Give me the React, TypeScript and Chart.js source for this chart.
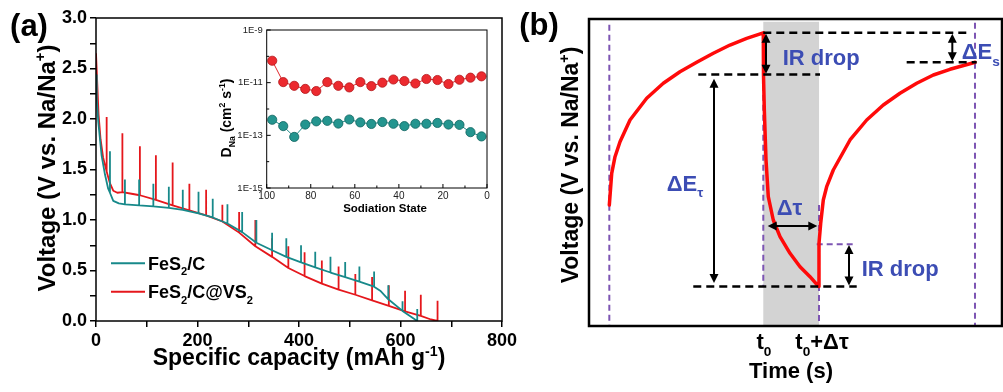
import { useEffect, useRef } from 'react';
import { Chart, registerables } from 'chart.js';

Chart.register(...registerables);

const FONT = "'Liberation Sans', Arial, Helvetica, sans-serif";
Chart.defaults.font.family = FONT;

// ---------------- Panel (a): GITT curves ----------------
const tealCap = [0, 1.5, 4.5, 11, 17.7, 24, 27.5, 34, 45, 57, 85, 113, 143.5, 171, 202, 230, 259, 288, 316, 347, 375, 404, 432, 462, 491, 519, 548, 560, 576, 604, 620, 633];
const tealV = [2.44, 2.2, 1.97, 1.64, 1.45, 1.31, 1.27, 1.19, 1.165, 1.155, 1.145, 1.135, 1.12, 1.1, 1.065, 1.025, 0.965, 0.88, 0.775, 0.7, 0.635, 0.58, 0.53, 0.48, 0.435, 0.39, 0.34, 0.3, 0.215, 0.1, 0.045, 0.0];
const tealPeak = [null, null, null, null, null, null, 1.68, null, null, 1.4, 1.4, 1.36, 1.33, 1.3, 1.28, 1.21, 1.155, 1.08, 1.0, 0.875, 0.82, 0.75, 0.685, 0.635, 0.585, 0.54, 0.49, null, 0.355, 0.195, null, 0.12];

const redCap = [0, 2.5, 5, 9, 14, 21, 27, 34, 42, 52, 70, 86.5, 118, 151, 184, 217, 249, 282, 314, 347, 379, 411, 445, 478, 511, 544, 577, 609, 640, 660, 673];
const redV = [2.65, 2.35, 2.05, 1.8, 1.62, 1.48, 1.37, 1.29, 1.27, 1.275, 1.26, 1.245, 1.2, 1.145, 1.095, 1.045, 0.985, 0.875, 0.74, 0.635, 0.525, 0.445, 0.37, 0.31, 0.26, 0.205, 0.15, 0.095, 0.05, 0.015, 0.0];
const redPeak = [null, null, null, null, null, 2.02, null, null, null, 1.86, null, 1.73, 1.64, 1.57, 1.36, 1.3, 1.15, 1.08, 1.0, 0.82, 0.74, 0.68, 0.6, 0.54, 0.465, 0.435, 0.355, 0.3, 0.26, null, 0.2];

// ---------------- Inset: diffusion coefficient ----------------
const insetState = [97.5, 92.5, 87.5, 82.5, 77.5, 72.5, 67.5, 62.5, 57.5, 52.5, 47.5, 42.5, 37.5, 32.5, 27.5, 22.5, 17.5, 12.5, 7.5, 2.5];
const insetRed = [6.8e-11, 1.05e-11, 7.6e-12, 5.8e-12, 4.8e-12, 1.05e-11, 7.6e-12, 6.6e-12, 1.05e-11, 7.4e-12, 1.0e-11, 1.32e-11, 1.15e-11, 9.3e-12, 1.38e-11, 1.26e-11, 8.9e-12, 1.29e-11, 1.55e-11, 1.74e-11];
const insetTeal = [3.9e-13, 2.24e-13, 8.7e-14, 2.57e-13, 3.4e-13, 3.55e-13, 2.8e-13, 4.0e-13, 3.1e-13, 2.7e-13, 3.2e-13, 2.75e-13, 2.24e-13, 2.75e-13, 2.75e-13, 2.95e-13, 2.57e-13, 2.5e-13, 1.32e-13, 9.1e-14];
const insetExp = [-15, -14, -13, -12, -11, -10, -9];
const insetYLabels = ['1E-15', '', '1E-13', '', '1E-11', '', '1E-9'];

// ---------------- Panel (b): schematic (arbitrary units 0-100) ----------------
const bCurveX = [4.92, 5.5, 6.3, 7.51, 9.93, 13.97, 17.99, 22.03, 26.08, 30.1, 34.14, 38.18, 42.2, 42.25, 42.45, 42.86, 43.41, 44.62, 46.25, 48.67, 51.09, 53.51, 55.57, 55.69, 56.1, 56.73, 57.55, 59.15, 63.2, 67.24, 71.26, 75.3, 79.35, 83.37, 87.41, 92.66, 93.46];
const bCurveY = [39.41, 49.74, 55.15, 60.03, 67.1, 74.17, 79.06, 82.83, 85.9, 88.83, 91.53, 93.71, 95.5, 81.76, 70.36, 54.07, 42.12, 34.53, 29.09, 23.68, 19.32, 16.06, 12.9, 26.94, 33.45, 41.04, 45.37, 50.81, 60.59, 67.1, 71.99, 75.8, 79.06, 81.76, 83.62, 85.57, 85.9];
const bShadeX = [42.2, 55.7];
const bShadeTop = 99.1;
const bVLineX = [4.92, 42.2, 55.69, 93.46];
const bVLineTop = [98.1, 81.8, 39.4, 98.8];
const bVLineBottom = [0, 12.9, 0, 0];
const bHLineX1 = [42.2, 26.46, 76.92, 25.25];
const bHLineX2 = [92.3, 55.93, 93.87, 64.82];
const bHLineY = [95.5, 81.92, 85.9, 12.9];
const bPurpleH = [55.13, 64.82, 26.61];
const bVArrowX = [42.86, 87.97, 30.27, 62.95];
const bVArrowY1 = [95.2, 95.2, 80.5, 26.4];
const bVArrowY2 = [82.2, 86.2, 14.0, 13.2];
const bHArrow = [43.27, 55.28, 32.57];
const bLabelText = [[['IR drop', 0]], [['IR drop', 0]], [['ΔE', 0], ['τ', 1]], [['ΔE', 0], ['s', 1]], [['Δτ', 0]]];
const bLabelX = [46.9, 66.03, 18.81, 90.24, 45.45];
const bLabelY = [87.72, 18.79, 46.68, 89.58, 38.86];
const bTickText = [[['t', 0], ['0', 1]], [['t', 0], ['0', 1], ['+Δτ', 0]]];
const bTickX = [42.37, 56.42];

const TEAL = '#17898a';
const RED = '#e5171c';
const BLUE = '#3c4db4';
const PURPLE = '#7d55b3';

type Part = [string, number];

function drawRich(ctx: any, parts: Part[], x: number, y: number, size: number, color: string, align = 'left', rotate = false, weight = 'bold') {
  ctx.save();
  ctx.translate(x, y);
  if (rotate) ctx.rotate(-Math.PI / 2);
  ctx.fillStyle = color;
  ctx.textBaseline = 'alphabetic';
  ctx.textAlign = 'left';
  const small = size * 0.62;
  let total = 0;
  const widths = parts.map(([t, k]) => {
    ctx.font = `${weight} ${k ? small : size}px ${FONT}`;
    const w = ctx.measureText(t).width;
    total += w;
    return w;
  });
  let cx = align === 'center' ? -total / 2 : 0;
  const base = size * 0.36;
  parts.forEach(([t, k], i) => {
    ctx.font = `${weight} ${k ? small : size}px ${FONT}`;
    const dy = k === 1 ? size * 0.3 : k === 2 ? -size * 0.4 : 0;
    ctx.fillText(t, cx, base + dy);
    cx += widths[i];
  });
  ctx.restore();
}

function gittPoints(cap: number[], v: number[], peak: (number | null)[]) {
  const pts: { x: number; y: number }[] = [];
  cap.forEach((c, i) => {
    pts.push({ x: c, y: v[i] });
    const p = peak[i];
    if (p != null) {
      pts.push({ x: c, y: p });
      pts.push({ x: c, y: v[i] });
    }
  });
  return pts;
}

function doubleArrow(ctx: any, x1: number, y1: number, x2: number, y2: number) {
  const head = 9, hw = 4.5;
  const dx = x2 - x1, dy = y2 - y1;
  const len = Math.hypot(dx, dy);
  const ux = dx / len, uy = dy / len;
  ctx.save();
  ctx.strokeStyle = '#000';
  ctx.fillStyle = '#000';
  ctx.lineWidth = 2;
  ctx.setLineDash([]);
  ctx.beginPath();
  ctx.moveTo(x1 + ux * head * 0.8, y1 + uy * head * 0.8);
  ctx.lineTo(x2 - ux * head * 0.8, y2 - uy * head * 0.8);
  ctx.stroke();
  const tri = (tx: number, ty: number, sx: number, sy: number) => {
    ctx.beginPath();
    ctx.moveTo(tx, ty);
    ctx.lineTo(tx - sx * head - sy * hw, ty - sy * head + sx * hw);
    ctx.lineTo(tx - sx * head + sy * hw, ty - sy * head - sx * hw);
    ctx.closePath();
    ctx.fill();
  };
  tri(x2, y2, ux, uy);
  tri(x1, y1, -ux, -uy);
  ctx.restore();
}

const aDecor = {
  id: 'aDecor',
  afterDraw(chart: any) {
    const { ctx, chartArea: ca } = chart;
    ctx.save();
    ctx.strokeStyle = '#000';
    ctx.lineWidth = 1.5;
    ctx.strokeRect(ca.left, ca.top, ca.right - ca.left, ca.bottom - ca.top);
    const items: [string, Part[], number][] = [
      [TEAL, [['FeS', 0], ['2', 1], ['/C', 0]], 263.3],
      [RED, [['FeS', 0], ['2', 1], ['/C@VS', 0], ['2', 1]], 291.7],
    ];
    items.forEach(([col, parts, y]) => {
      ctx.strokeStyle = col;
      ctx.lineWidth = 2;
      ctx.beginPath();
      ctx.moveTo(111, y);
      ctx.lineTo(145, y);
      ctx.stroke();
      drawRich(ctx, parts, 148, y, 18, '#000');
    });
    ctx.restore();
    drawRich(ctx, [['(a)', 0]], 29, 25, 31, '#000', 'center');
    drawRich(ctx, [['Voltage (V vs. Na/Na', 0], ['+', 2], [')', 0]], 46, 168, 24, '#000', 'center', true);
    drawRich(ctx, [['Specific capacity (mAh g', 0], ['-1', 2], [')', 0]], 299, 357, 23, '#000', 'center');
  },
};

const insetDecor = {
  id: 'insetDecor',
  afterDraw(chart: any) {
    const { ctx, chartArea: ca, scales } = chart;
    ctx.save();
    ctx.strokeStyle = '#000';
    ctx.lineWidth = 1;
    ctx.strokeRect(ca.left, ca.top, ca.right - ca.left, ca.bottom - ca.top);
    ctx.beginPath();
    scales.x.ticks.forEach((t: any) => {
      const p = scales.x.getPixelForValue(t.value);
      const l = t.value % 20 === 0 ? 4 : 2.5;
      ctx.moveTo(p, ca.bottom);
      ctx.lineTo(p, ca.bottom - l);
    });
    scales.y.ticks.forEach((t: any, i: number) => {
      const p = scales.y.getPixelForValue(t.value);
      const l = insetYLabels[i] ? 4 : 2.5;
      ctx.moveTo(ca.left, p);
      ctx.lineTo(ca.left + l, p);
    });
    ctx.stroke();
    ctx.restore();
    drawRich(ctx, [['D', 0], ['Na', 1], [' (cm', 0], ['2', 2], [' s', 0], ['-1', 2], [')', 0]], 226, 118, 14, '#000', 'center', true);
    drawRich(ctx, [['Sodiation State', 0]], 385, 208, 11.5, '#000', 'center');
  },
};

const bBack = {
  id: 'bBack',
  beforeDatasetsDraw(chart: any) {
    const { ctx, scales } = chart;
    const X = (v: number) => scales.x.getPixelForValue(v);
    const Y = (v: number) => scales.y.getPixelForValue(v);
    ctx.save();
    ctx.fillStyle = '#d3d3d3';
    ctx.fillRect(X(bShadeX[0]), Y(bShadeTop), X(bShadeX[1]) - X(bShadeX[0]), Y(0) - Y(bShadeTop));
    ctx.strokeStyle = PURPLE;
    ctx.lineWidth = 2;
    ctx.setLineDash([6, 4]);
    bVLineX.forEach((x, i) => {
      ctx.beginPath();
      ctx.moveTo(X(x), Y(bVLineTop[i]));
      ctx.lineTo(X(x), Y(bVLineBottom[i]));
      ctx.stroke();
    });
    ctx.beginPath();
    ctx.moveTo(X(bPurpleH[0]), Y(bPurpleH[2]));
    ctx.lineTo(X(bPurpleH[1]), Y(bPurpleH[2]));
    ctx.stroke();
    ctx.restore();
  },
  afterDatasetsDraw(chart: any) {
    const { ctx, scales, chartArea: ca } = chart;
    const X = (v: number) => scales.x.getPixelForValue(v);
    const Y = (v: number) => scales.y.getPixelForValue(v);
    ctx.save();
    ctx.strokeStyle = '#000';
    ctx.lineWidth = 2.5;
    ctx.setLineDash([8, 5]);
    bHLineY.forEach((y, i) => {
      ctx.beginPath();
      ctx.moveTo(X(bHLineX1[i]), Y(y));
      ctx.lineTo(X(bHLineX2[i]), Y(y));
      ctx.stroke();
    });
    ctx.restore();
    bVArrowX.forEach((x, i) => doubleArrow(ctx, X(x), Y(bVArrowY1[i]), X(x), Y(bVArrowY2[i])));
    doubleArrow(ctx, X(bHArrow[0]), Y(bHArrow[2]), X(bHArrow[1]), Y(bHArrow[2]));
    bLabelText.forEach((parts, i) => drawRich(ctx, parts as Part[], X(bLabelX[i]), Y(bLabelY[i]), 22, BLUE));
    ctx.save();
    ctx.strokeStyle = '#000';
    ctx.lineWidth = 2.5;
    ctx.strokeRect(ca.left, ca.top, ca.right - ca.left, ca.bottom - ca.top);
    ctx.restore();
    bTickText.forEach((parts, i) => drawRich(ctx, parts as Part[], X(bTickX[i]), 341.5, 22, '#000', 'center'));
    drawRich(ctx, [['Time (s)', 0]], 791, 370, 22, '#000', 'center');
    drawRich(ctx, [['Voltage (V vs. Na/Na', 0], ['+', 2], [')', 0]], 570, 165, 23, '#000', 'center', true);
    drawRich(ctx, [['(b)', 0]], 539, 24, 31, '#000', 'center');
  },
};

export default function App() {
  const aRef = useRef<HTMLCanvasElement>(null);
  const iRef = useRef<HTMLCanvasElement>(null);
  const bRef = useRef<HTMLCanvasElement>(null);

  useEffect(() => {
    const tickFont = { size: 18, weight: 'bold' as const, family: FONT };
    const chartA = new Chart(aRef.current!, {
      type: 'scatter',
      data: {
        datasets: [
          { label: 'FeS2/C', data: gittPoints(tealCap, tealV, tealPeak), showLine: true, borderColor: TEAL, borderWidth: 1.8, pointRadius: 0, borderJoinStyle: 'bevel', tension: 0 },
          { label: 'FeS2/C@VS2', data: gittPoints(redCap, redV, redPeak), showLine: true, borderColor: RED, borderWidth: 1.8, pointRadius: 0, borderJoinStyle: 'bevel', tension: 0 },
        ],
      },
      options: {
        animation: false,
        responsive: false,
        devicePixelRatio: 1,
        events: [],
        layout: { padding: { left: 56, right: 501, top: 18, bottom: 41 } },
        plugins: { legend: { display: false }, tooltip: { enabled: false } },
        scales: {
          x: {
            type: 'linear', min: 0, max: 800,
            afterFit: (s: any) => { s.height = 30; },
            ticks: { stepSize: 100, color: '#000', font: tickFont, padding: 3, maxRotation: 0, autoSkip: false, callback: (v: any) => (v % 200 === 0 ? String(v) : '') },
            grid: { display: true, drawOnChartArea: false, drawTicks: true, tickLength: 6, color: '#000', lineWidth: 1.5 },
            border: { display: false },
          },
          y: {
            type: 'linear', min: 0, max: 3,
            afterFit: (s: any) => { s.width = 40; },
            ticks: { stepSize: 0.25, color: '#000', font: tickFont, padding: 3, autoSkip: false, callback: (v: any) => (Math.abs(v * 2 - Math.round(v * 2)) < 1e-6 ? Number(v).toFixed(1) : '') },
            grid: { display: true, drawOnChartArea: false, drawTicks: true, tickLength: 6, color: '#000', lineWidth: 1.5 },
            border: { display: false },
          },
        },
      },
      plugins: [aDecor],
    } as any);

    const chartI = new Chart(iRef.current!, {
      type: 'scatter',
      data: {
        datasets: [
          { label: 'FeS2/C@VS2', data: insetState.map((x, i) => ({ x, y: insetRed[i] })), showLine: true, borderColor: '#e0262b', borderWidth: 1, pointRadius: 4.6, pointBackgroundColor: '#ec2a2f', pointBorderColor: '#b3161a', pointBorderWidth: 0.8 },
          { label: 'FeS2/C', data: insetState.map((x, i) => ({ x, y: insetTeal[i] })), showLine: true, borderColor: '#1d8a88', borderWidth: 1, pointRadius: 4.6, pointBackgroundColor: '#24958f', pointBorderColor: '#0f6360', pointBorderWidth: 0.8 },
        ],
      },
      options: {
        animation: false,
        responsive: false,
        devicePixelRatio: 1,
        events: [],
        layout: { padding: { left: 221.7, right: 516, top: 30, bottom: 179 } },
        plugins: { legend: { display: false }, tooltip: { enabled: false } },
        scales: {
          x: {
            type: 'linear', min: 0, max: 100, reverse: true,
            afterFit: (s: any) => { s.height = 25; },
            ticks: { stepSize: 10, color: '#222', font: { size: 10, family: FONT }, padding: 2, maxRotation: 0, autoSkip: false, callback: (v: any) => (v % 20 === 0 ? String(v) : '') },
            grid: { display: false, drawTicks: false },
            border: { display: false },
          },
          y: {
            type: 'logarithmic', min: 1e-15, max: 1e-9,
            afterFit: (s: any) => { s.width = 45; },
            afterBuildTicks: (s: any) => { s.ticks = insetExp.map((e) => ({ value: Math.pow(10, e) })); },
            ticks: { color: '#222', font: { size: 9.5, family: FONT }, padding: 4, autoSkip: false, callback: (_v: any, i: number) => insetYLabels[i] },
            grid: { display: false, drawTicks: false },
            border: { display: false },
          },
        },
      },
      plugins: [insetDecor],
    } as any);

    const chartB = new Chart(bRef.current!, {
      type: 'scatter',
      data: {
        datasets: [
          { label: 'schematic', data: bCurveX.map((x, i) => ({ x, y: bCurveY[i] })), showLine: true, borderColor: '#ff0a0a', borderWidth: 3.5, pointRadius: 0, tension: 0, borderJoinStyle: 'round', borderCapStyle: 'round' },
        ],
      },
      options: {
        animation: false,
        responsive: false,
        devicePixelRatio: 1,
        events: [],
        layout: { padding: { left: 589, right: 1, top: 19, bottom: 66 } },
        plugins: { legend: { display: false }, tooltip: { enabled: false } },
        scales: {
          x: { type: 'linear', min: 0, max: 100, display: false },
          y: { type: 'linear', min: 0, max: 100, display: false },
        },
      },
      plugins: [bBack],
    } as any);

    return () => {
      chartA.destroy();
      chartI.destroy();
      chartB.destroy();
    };
  }, []);

  const cs: any = { position: 'absolute', left: 0, top: 0, width: 1003, height: 392 };
  return (
    <div style={{ position: 'fixed', left: 0, top: 0, width: 1003, height: 392, background: '#fff', overflow: 'hidden' }}>
      <canvas ref={aRef} width={1003} height={392} style={cs} />
      <canvas ref={iRef} width={1003} height={392} style={cs} />
      <canvas ref={bRef} width={1003} height={392} style={cs} />
    </div>
  );
}
